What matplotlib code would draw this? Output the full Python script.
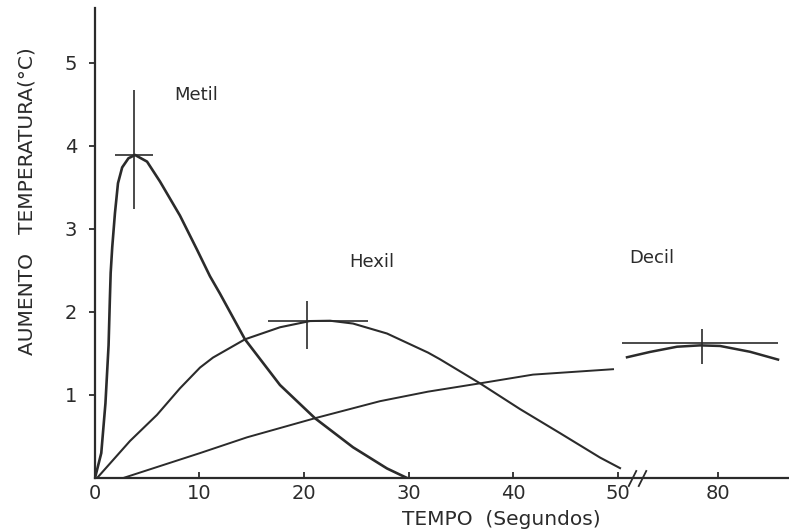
import numpy as np
from matplotlib import pyplot as plt

# tempo (s) x aumento de temperatura (oC)
metil_t = [0, 0.6, 1.0, 1.3, 1.42, 1.5, 1.65, 1.91, 2.2, 2.6, 3.2, 3.83, 4.98,
           6.22, 8.13, 9.76, 11.0, 11.96, 14.35, 17.70, 21.05, 24.69, 27.94, 29.86]
metil_y = [0, 0.3, 0.9, 1.6, 2.14, 2.47, 2.78, 3.19, 3.55, 3.74, 3.85, 3.89, 3.81,
           3.57, 3.16, 2.75, 2.43, 2.22, 1.67, 1.12, 0.72, 0.37, 0.115, 0.0]

hexil_t = [0.2, 3.35, 5.93, 8.13, 10.05, 11.29, 14.35, 17.70, 20.57, 22.49, 24.69,
           27.94, 31.87, 33.01, 36.84, 40.67, 44.50, 48.33, 50.24]
hexil_y = [0, 0.446, 0.76, 1.08, 1.33, 1.45, 1.67, 1.815, 1.89, 1.894, 1.86,
           1.74, 1.51, 1.43, 1.14, 0.83, 0.54, 0.246, 0.119]

decil_t = [2.7, 10.05, 14.55, 21.05, 27.27, 31.87, 36.84, 41.91, 49.57]
decil_y = [0, 0.30, 0.49, 0.72, 0.925, 1.04, 1.14, 1.245, 1.31]

# trecho depois da quebra do eixo
decil2_t = [71.29, 73.49, 76.08, 78.28, 80.19, 83.06, 85.74]
decil2_y = [1.454, 1.518, 1.581, 1.597, 1.590, 1.52, 1.426]

# barras de erro: centro e extremos
err_x = [3.73, 20.29, 78.47]
err_y = [3.89, 1.89, 1.62]
err_x_lo = [1.91, 16.56, 70.81]
err_x_hi = [5.55, 26.12, 85.74]
err_y_lo = [3.24, 1.55, 1.37]
err_y_hi = [4.67, 2.13, 1.79]

xticks = [0, 10, 20, 30, 40, 50, 80]
xticklabels = ["0", "10", "20", "30", "40", "50", "80"]
yticks = [1, 2, 3, 4, 5]

labels = ["Metil", "Hexil", "Decil"]
label_x = [9.67, 26.5, 73.7]
label_y = [4.61, 2.60, 2.65]

# eixo x quebrado entre 50 e 70 s
g_lo, g_hi, k = 50.35, 70.75, 0.00098
shift = g_hi - (g_lo + (g_hi - g_lo) * k)


def fwd(x):
    x = np.asarray(x, dtype=float)
    return np.where(x <= g_lo, x, np.where(x >= g_hi, x - shift, g_lo + (x - g_lo) * k))


def inv(u):
    u = np.asarray(u, dtype=float)
    top = g_lo + (g_hi - g_lo) * k
    return np.where(u <= g_lo, u, np.where(u >= top, u + shift, g_lo + (u - g_lo) / k))


cor = "#2b2b2b"
plt.rcParams["font.family"] = "DejaVu Sans"

fig = plt.figure(figsize=(7.89, 5.32), dpi=100)
ax = fig.add_axes([0.1204, 0.1015, 0.8796, 0.8835])
ax.set_xscale("function", functions=(fwd, inv))

ax.plot(metil_t, metil_y, color=cor, lw=1.9, solid_joinstyle="round")
ax.plot(hexil_t, hexil_y, color=cor, lw=1.5, solid_joinstyle="round")
ax.plot(decil_t, decil_y, color=cor, lw=1.4, solid_joinstyle="round")
ax.plot(decil2_t, decil2_y, color=cor, lw=1.8, solid_joinstyle="round")

ex = np.array(err_x)
ey = np.array(err_y)
xerr = [ex - np.array(err_x_lo), np.array(err_x_hi) - ex]
yerr = [ey - np.array(err_y_lo), np.array(err_y_hi) - ey]
ax.errorbar(ex, ey, xerr=xerr, yerr=yerr, fmt="none", ecolor=cor,
            elinewidth=1.2, capsize=0)

for txt, tx, ty in zip(labels, label_x, label_y):
    ax.text(tx, ty, txt, ha="center", va="center", fontsize=13, color=cor)

ax.set_xlim(0, 86.79)
ax.set_ylim(0, 5.66)

# marca de quebra "//"
bx = g_hi + 1.5
ax.plot([bx - 0.5, bx + 0.5], [0, 0], ls="none", marker=[(-1, -2), (1, 2)],
        ms=12, mec=cor, mew=1.3, clip_on=False)

ax.set_xticks(xticks)
ax.set_xticklabels(xticklabels)
ax.set_yticks(yticks)
ax.xaxis.set_minor_locator(plt.NullLocator())
ax.tick_params(axis="x", direction="in", length=4, width=1.3, color=cor,
               labelsize=14, labelcolor=cor, pad=4)
ax.tick_params(axis="y", direction="out", length=4, width=1.3, color=cor,
               labelsize=14, labelcolor=cor, pad=9)

for s in ["top", "right"]:
    ax.spines[s].set_visible(False)
for s in ["left", "bottom"]:
    ax.spines[s].set_color(cor)
    ax.spines[s].set_linewidth(1.6)

ax.set_xlabel("TEMPO  (Segundos)", fontsize=14.5, color=cor)
ax.xaxis.label.set_va("center")
ax.xaxis.set_label_coords(0.585, -0.089)
ax.set_ylabel("AUMENTO   TEMPERATURA(°C)", fontsize=14.5, color=cor)
ax.yaxis.label.set_va("center")
ax.yaxis.set_label_coords(-0.098, 0.59)

fig.savefig("out.png", dpi=100)
